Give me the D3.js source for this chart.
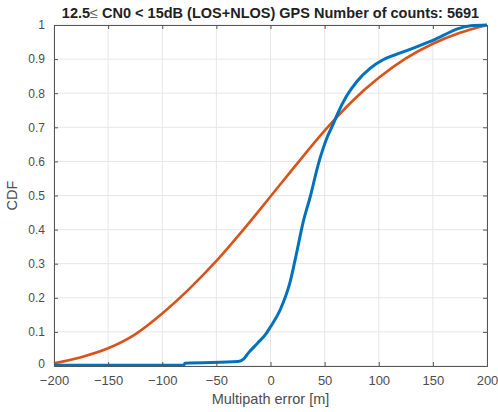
<!DOCTYPE html>
<html>
<head>
<meta charset="utf-8">
<script src="https://cdn.jsdelivr.net/npm/d3@7"></script>
<style>
  body { margin: 0; background: #fff; }
  svg { display: block; font-family: "Liberation Sans", Arial, sans-serif; }
  .grid line { stroke: #e6e6e6; stroke-width: 1; }
  .axis text { fill: #4d4d4d; font-size: 12px; }
  .axis.x text { font-size: 13px; }
  .axis path, .axis line { stroke: #555; }
</style>
</head>
<body>
<div id="chart"></div>
<script>
const titleStart = '12.5'
const titleSymbol = '\u2264'
const titleRest = ' CN0 < 15dB (LOS+NLOS) GPS Number of counts: 5691'
const xLabel = 'Multipath error [m]'
const yLabel = 'CDF'
const xTicks = [-200, -150, -100, -50, 0, 50, 100, 150, 200]
const yTicks = [0, 0.1, 0.2, 0.3, 0.4, 0.5, 0.6, 0.7, 0.8, 0.9, 1]

// empirical CDF (blue)
const empX = [-200, -80, -79, -30, -25, -20, -12, -4, 0, 9, 18, 24, 30, 37, 44, 52, 58, 62, 70, 80, 92, 104, 120, 132, 147, 160, 172, 185, 200]
const empP = [0.002, 0.003, 0.008, 0.013, 0.02, 0.04, 0.067, 0.095, 0.115, 0.165, 0.245, 0.33, 0.42, 0.50, 0.59, 0.668, 0.71, 0.74, 0.79, 0.835, 0.873, 0.898, 0.918, 0.932, 0.951, 0.97, 0.988, 0.998, 1.0]

// fitted CDF (orange)
const fitX = [-200, -175, -150, -125, -100, -75, -50, -25, 0, 25, 50, 75, 100, 125, 150, 175, 200]
const fitP = [0.008, 0.026, 0.052, 0.093, 0.154, 0.226, 0.308, 0.40, 0.497, 0.595, 0.69, 0.775, 0.845, 0.902, 0.945, 0.977, 1.0]

const width = 498, height = 412
const margin = { top: 25, right: 11, bottom: 46, left: 54 }

const svg = d3.select('#chart').append('svg')
  .attr('width', width)
  .attr('height', height)

const x = d3.scaleLinear().domain([-200, 200]).range([margin.left, width - margin.right])
const y = d3.scaleLinear().domain([0, 1]).range([height - margin.bottom, margin.top])

// grid
const grid = svg.append('g').attr('class', 'grid')
grid.selectAll('.gx').data(xTicks).enter().append('line')
  .attr('x1', d => x(d)).attr('x2', d => x(d))
  .attr('y1', y(0)).attr('y2', y(1))
grid.selectAll('.gy').data(yTicks).enter().append('line')
  .attr('y1', d => y(d)).attr('y2', d => y(d))
  .attr('x1', x(-200)).attr('x2', x(200))

// lines
const line = d3.line().x(d => x(d[0])).y(d => y(d[1])).curve(d3.curveMonotoneX)

svg.append('path')
  .datum(fitX.map((v, i) => [v, fitP[i]]))
  .attr('fill', 'none')
  .attr('stroke', '#D95319')
  .attr('stroke-width', 2.6)
  .attr('d', line)

svg.append('path')
  .datum(empX.map((v, i) => [v, empP[i]]))
  .attr('fill', 'none')
  .attr('stroke', '#0072BD')
  .attr('stroke-width', 3)
  .attr('stroke-linejoin', 'round')
  .attr('d', line)

// axes (box with ticks on all sides)
const tick = 4
svg.append('g').attr('class', 'axis x')
  .attr('transform', `translate(0,${y(0)})`)
  .call(d3.axisBottom(x).tickValues(xTicks).tickSize(-tick).tickPadding(10).tickFormat(d3.format('d')))
svg.append('g').attr('class', 'axis')
  .attr('transform', `translate(0,${y(1)})`)
  .call(d3.axisTop(x).tickValues(xTicks).tickSize(-tick).tickFormat(''))
svg.append('g').attr('class', 'axis')
  .attr('transform', `translate(${x(-200)},0)`)
  .call(d3.axisLeft(y).tickValues(yTicks).tickSize(-tick).tickPadding(9).tickFormat(d => d === 0 || d === 1 ? d3.format('d')(d) : d3.format('.1f')(d)))
svg.append('g').attr('class', 'axis')
  .attr('transform', `translate(${x(200)},0)`)
  .call(d3.axisRight(y).tickValues(yTicks).tickSize(-tick).tickFormat(''))

// the "0" y label sits a bit higher so it clears "-200"
svg.selectAll('.axis text').filter(d => d === 0 && typeof d === 'number')
  .filter(function () { return this.getAttribute('x') !== null && +this.getAttribute('x') < 0 })
  .attr('dy', '0.1em')

// labels
const title = svg.append('text')
  .attr('x', (x(-200) + x(200)) / 2)
  .attr('y', 18)
  .attr('text-anchor', 'middle')
  .attr('font-size', 14.5)
  .attr('font-weight', 'bold')
  .attr('fill', '#222')
title.append('tspan').text(titleStart)
title.append('tspan').attr('font-weight', 'normal').attr('fill', '#666').text(titleSymbol)
title.append('tspan').text(titleRest)

svg.append('text')
  .attr('x', (x(-200) + x(200)) / 2)
  .attr('y', 404)
  .attr('text-anchor', 'middle')
  .attr('font-size', 14.5)
  .attr('fill', '#4d4d4d')
  .text(xLabel)

svg.append('text')
  .attr('transform', `translate(17,${(y(0) + y(1)) / 2}) rotate(-90)`)
  .attr('text-anchor', 'middle')
  .attr('font-size', 14.5)
  .attr('fill', '#4d4d4d')
  .text(yLabel)
</script>
</body>
</html>
